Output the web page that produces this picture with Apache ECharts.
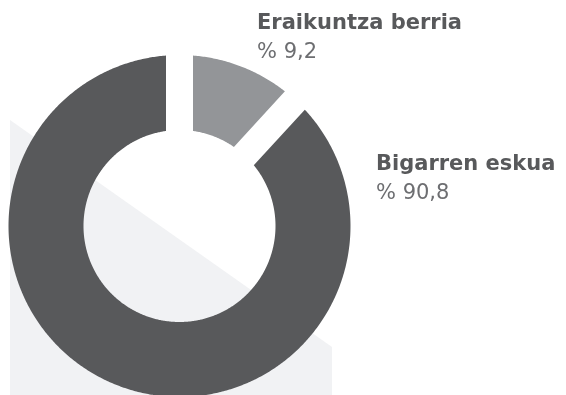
<!DOCTYPE html>
<html>
<head>
<meta charset="utf-8">
<script src="https://cdn.jsdelivr.net/npm/echarts@6/dist/echarts.min.js"></script>
<style>
  html, body { margin: 0; padding: 0; background: #ffffff; }
  #chart { width: 566px; height: 395px; }
</style>
</head>
<body>
<div id="chart"></div>
<script>
// Housing purchases by type (percent)
const categories = ['Eraikuntza berria', 'Bigarren eskua'];
const shares = [9.2, 90.8];
const sliceColors = ['#939598', '#58595b'];

// Ring geometry
const CX = 179.5, CY = 226;
const R_OUT = 171, R_IN = 96;
const GAP = 27;              // straight white gap between slices, px
const START_DEG = 0;         // first gap centred at 12 o'clock

// Label anchors (top-left of each label block)
const labelAnchors = [
  { x: 257, y: 13 },
  { x: 376, y: 154 }
];

const fmt = v => v.toFixed(1).replace('.', ',');
const total = shares.reduce((a, b) => a + b, 0);

// Angular width of one gap measured at the ring's mid radius; the remaining
// circumference is shared out in proportion to the values.
const R_MID = (R_OUT + R_IN) / 2;
const gapAngle = 2 * Math.asin(GAP / 2 / R_MID);
const usable = Math.PI * 2 - shares.length * gapAngle;
const bounds = [START_DEG * Math.PI / 180];
shares.forEach((s, i) => bounds.push(bounds[i] + s / total * usable + gapAngle));

function pt(r, t) {
  return [CX + r * Math.sin(t), CY - r * Math.cos(t)];
}

// Annular sector whose sides run parallel to the boundary radii, h px inside
function slicePoints(b1, b2) {
  const h = GAP / 2;
  const oa = b1 + Math.asin(h / R_OUT), ob = b2 - Math.asin(h / R_OUT);
  const ia = b1 + Math.asin(h / R_IN), ib = b2 - Math.asin(h / R_IN);
  const pts = [];
  const nO = Math.max(2, Math.ceil((ob - oa) / (Math.PI / 360)));
  for (let k = 0; k <= nO; k++) pts.push(pt(R_OUT, oa + (ob - oa) * k / nO));
  const nI = Math.max(2, Math.ceil((ib - ia) / (Math.PI / 360)));
  for (let k = 0; k <= nI; k++) pts.push(pt(R_IN, ib + (ia - ib) * k / nI));
  return pts;
}

const chart = echarts.init(document.getElementById('chart'), null, { renderer: 'canvas' });

chart.setOption({
  animation: false,
  backgroundColor: '#ffffff',
  graphic: [{
    type: 'polygon',
    z: -10,
    silent: true,
    shape: { points: [[10, 120], [332, 347], [332, 395], [10, 395]] },
    style: { fill: '#f1f2f4' }
  }],
  series: [{
    type: 'custom',
    coordinateSystem: 'none',
    silent: true,
    data: categories.map((name, i) => ({ name, value: shares[i] })),
    renderItem: (params, api) => {
      const i = params.dataIndex;
      const v = api.value(0);
      const a = labelAnchors[i];
      return {
        type: 'group',
        children: [
          {
            type: 'polygon',
            shape: { points: slicePoints(bounds[i], bounds[i + 1]) },
            style: { fill: sliceColors[i] }
          },
          {
            type: 'text',
            x: a.x, y: a.y,
            style: {
              text: categories[i],
              font: 'bold 21px "DejaVu Sans"',
              fill: '#58595b',
              verticalAlign: 'top',
              align: 'left'
            }
          },
          {
            type: 'text',
            x: a.x, y: a.y + 29,
            style: {
              text: '% ' + fmt(v),
              font: '21px "DejaVu Sans"',
              fill: '#6d6e71',
              verticalAlign: 'top',
              align: 'left'
            }
          }
        ]
      };
    }
  }]
});
</script>
</body>
</html>
